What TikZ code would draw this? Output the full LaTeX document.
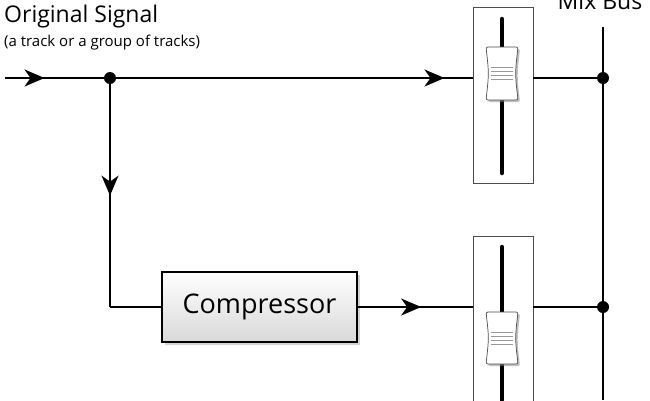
\documentclass[tikz,border=0pt]{standalone}
\usepackage{fontspec}
\setmainfont{Open Sans}
\usetikzlibrary{arrows.meta,decorations.markings,shadows}
\begin{document}
\begin{tikzpicture}[x=1pt,y=-1pt,
  wire/.style={line width=1.7pt},
  midarrow/.style={postaction={decorate},decoration={markings,mark=at position #1 with {\arrow{Stealth[length=20pt,width=17pt,inset=6pt]}}}},
  dotn/.style={circle,fill=black,inner sep=0pt,minimum size=12pt},
  faderbox/.style={draw=black!70,line width=0.9pt},
  knob/.style={draw=black!70,line width=0.7pt,fill=white,rounded corners=2pt,drop shadow={shadow xshift=2pt,shadow yshift=-2pt,opacity=0.5}},
  comp/.style={draw,line width=1.5pt,top color=white,bottom color=black!15,minimum width=195pt,minimum height=70pt,font=\fontsize{27}{30}\selectfont,drop shadow={shadow xshift=3pt,shadow yshift=-3pt,opacity=0.35}}]
\useasboundingbox (0,0) rectangle (650,400);
% labels
\node[anchor=west,font=\fontsize{23}{26}\selectfont,inner sep=0pt] (ttl) at (4,17) {Original Signal};
\node[anchor=west,font=\fontsize{15}{18}\selectfont,inner sep=0pt] (sub) at (4,43) {(a track or a group of tracks)};
\node[font=\fontsize{23}{26}\selectfont,inner sep=0pt] (mix) at (600,1) {Mix Bus};
% coordinates
\coordinate (in) at (5,78);
\node[dotn] (j) at (110,78) {};
\coordinate (jb) at (110,307);
\node[comp] (cp) at (259.5,307) {Compressor};
% faders
\draw[faderbox] (473,7) rectangle (533,183);
\draw[faderbox] (473,236) rectangle (533,410);
\coordinate (f1l) at (473,78); \coordinate (f1r) at (533,78);
\coordinate (f2l) at (473,307); \coordinate (f2r) at (533,307);
\draw[line width=4.5pt,line cap=round] (502,19) -- (502,173);
\draw[line width=4.5pt,line cap=round] (502,247) -- (502,400);
\foreach \y/\h in {47/53,312/52}{
  \draw[knob] (486,\y) .. controls (489,\y+\h/2) .. (486,\y+\h) -- (518,\y+\h) .. controls (515,\y+\h/2) .. (518,\y) -- cycle;
  \foreach \k in {-6,-2,2,6}
    \draw[black!40,line width=0.9pt] (491,\y+\h/2+\k) -- (513,\y+\h/2+\k);
}
% bus
\coordinate (bt) at (603,27);
\coordinate (bb) at (603,400);
\node[dotn] (d1) at (603,78) {};
\node[dotn] (d2) at (603,307) {};
\draw[wire] (bt) -- (bb);
% wires
\draw[wire,midarrow=0.4] (in) -- (j);
\draw[wire,midarrow=0.92] (j) -- (f1l);
\draw[wire] (f1r) -- (d1);
\draw[wire,midarrow=0.5] (j) -- (jb);
\draw[wire] (jb) -- (cp.west);
\draw[wire,midarrow=0.55] (cp.east) -- (f2l);
\draw[wire] (f2r) -- (d2);
\end{tikzpicture}
\end{document}
